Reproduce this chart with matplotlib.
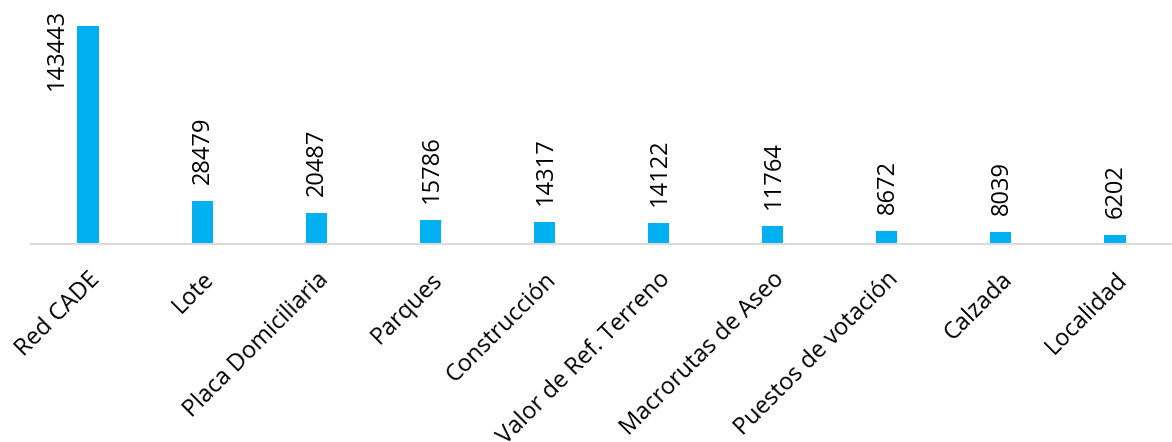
import matplotlib
matplotlib.use('Agg')
from matplotlib import pyplot as plt

# Number of records per layer
categories = ['Red CADE', 'Lote', 'Placa Domiciliaria', 'Parques', 'Construcción',
              'Valor de Ref. Terreno', 'Macrorutas de Aseo', 'Puestos de votación',
              'Calzada', 'Localidad']
counts = [143443, 28479, 20487, 15786, 14317, 14122, 11764, 8672, 8039, 6202]

BAR_COLOR = '#00B0F0'
AXIS_COLOR = '#D9D9D9'

plt.rcParams['font.family'] = ['Open Sans', 'DejaVu Sans']

fig = plt.figure(figsize=(11.72, 4.42), dpi=100)
ax = fig.add_axes([31 / 1172, 1 - 244 / 442, 1141 / 1172, 244 / 442])

x = list(range(len(categories)))
ax.bar(x, counts, width=0.185, color=BAR_COLOR, zorder=2)

ax.set_xlim(-0.5, len(categories) - 0.5)
ax.set_ylim(0, 160500)

# Value labels: above each bar, or beside it when there is no room on top
for i, v in enumerate(counts):
    if v == max(counts):
        ax.annotate(str(v), (i, v), xytext=(-31, 17), textcoords='offset pixels',
                    rotation=90, ha='center', va='top', fontsize=17, color='#000000')
    else:
        ax.annotate(str(v), (i, v), xytext=(1, 17), textcoords='offset pixels',
                    rotation=90, ha='center', va='bottom', fontsize=17, color='#000000')

# Only the baseline is kept
for side in ['top', 'right', 'left']:
    ax.spines[side].set_visible(False)
ax.spines['bottom'].set_color(AXIS_COLOR)
ax.spines['bottom'].set_linewidth(1.5)
ax.set_yticks([])

ax.set_xticks(x)
ax.set_xticklabels(categories, rotation=45, ha='right', rotation_mode='anchor',
                   fontsize=17)
ax.tick_params(axis='x', length=0, pad=17)

plt.savefig('out.png', dpi=100)
